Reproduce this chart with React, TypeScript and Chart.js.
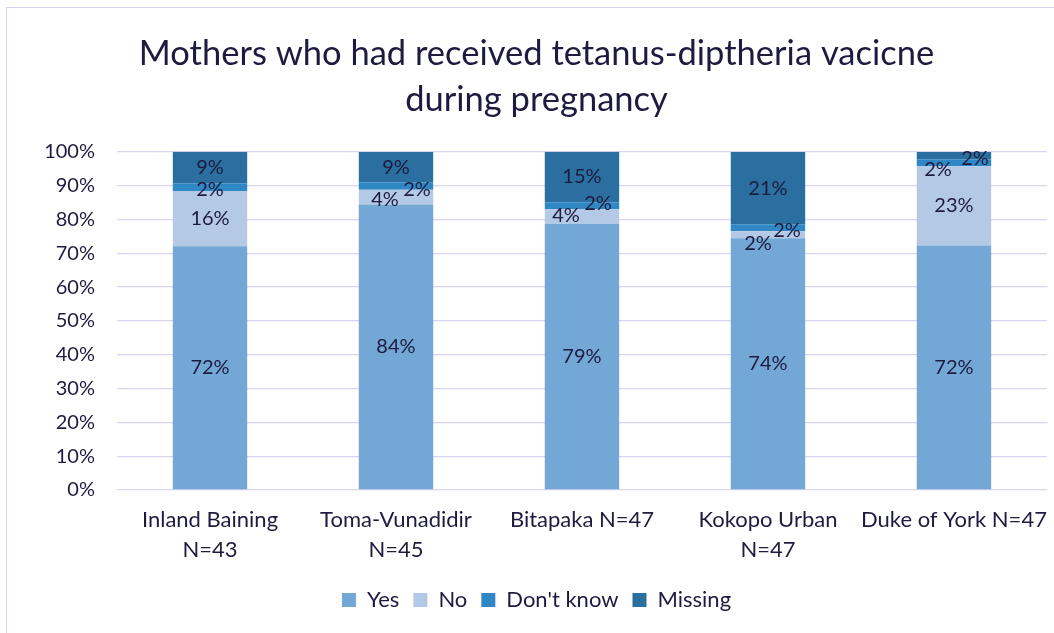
import React, { useEffect, useRef } from "react";
import { Chart, registerables } from "chart.js";

Chart.register(...registerables);

const titleLines = ["Mothers who had received tetanus-diptheria vacicne", "during pregnancy"];
const categories: (string | string[])[] = [
  ["Inland Baining", "N=43"],
  ["Toma-Vunadidir", "N=45"],
  "Bitapaka N=47",
  ["Kokopo Urban", "N=47"],
  "Duke of York N=47",
];
const seriesNames = ["Yes", "No", "Don't know", "Missing"];
const yesValues = [72.1, 84.4, 78.7, 74.4, 72.3];
const noValues = [16.3, 4.4, 4.3, 2.1, 23.4];
const dontKnowValues = [2.3, 2.2, 2.1, 2.1, 2.1];
const missingValues = [9.3, 8.9, 14.9, 21.3, 2.1];

const seriesColors = ["#72a7d6", "#b4c9e6", "#2f87c3", "#2a6f9f"];
const textColor = "#1d1b3f";
const gridColor = "#d9d4ef";
const FONT = "Lato";

// label nudges (dx, dy) per series / category, to mimic the reference's placement
const labelOffsets: number[][][] = [
  [[0, 0], [0, 0], [0, 0], [0, 0], [0, 0]],
  [[0, 0], [-11, 2], [-16, -1], [-10, 9], [0, 0]],
  [[0, 2], [21, 4], [16, -2], [19, 3], [-16, 7]],
  [[0, 0], [0, 0], [0, 0], [0, 0], [21, 3]],
];

const segLabels = {
  id: "segLabels",
  afterDatasetsDraw(chart: any) {
    const ctx = chart.ctx;
    ctx.save();
    ctx.font = `20px ${FONT}`;
    ctx.fillStyle = textColor;
    ctx.textAlign = "center";
    ctx.textBaseline = "middle";
    chart.data.datasets.forEach((ds: any, di: number) => {
      const meta = chart.getDatasetMeta(di);
      meta.data.forEach((bar: any, i: number) => {
        const v = ds.data[i];
        const p = bar.getProps(["x", "y", "base"], true);
        const off = labelOffsets[di][i];
        ctx.fillText(Math.round(v) + "%", p.x + off[0], (p.y + p.base) / 2 + off[1]);
      });
    });
    ctx.restore();
  },
};

export default function App() {
  const ref = useRef<HTMLCanvasElement>(null);
  useEffect(() => {
    if (!ref.current) return;
    const allValues = [yesValues, noValues, dontKnowValues, missingValues];
    const chart = new Chart(ref.current, {
      type: "bar",
      data: {
        labels: categories,
        datasets: seriesNames.map((name, i) => ({
          label: name,
          data: allValues[i],
          backgroundColor: seriesColors[i],
          borderWidth: 0,
          barPercentage: 0.4,
          categoryPercentage: 1.0,
        })),
      },
      options: {
        responsive: false,
        animation: false,
        devicePixelRatio: 1,
        layout: { padding: { left: 20, right: 1, top: 0, bottom: 12 } },
        plugins: {
          title: {
            display: true,
            text: titleLines,
            color: textColor,
            font: { family: FONT, size: 34.5, weight: "normal", lineHeight: 1.33 },
            padding: { top: 31, bottom: 29 },
          },
          legend: {
            position: "bottom",
            labels: {
              color: textColor,
              font: { family: FONT, size: 22 },
              boxWidth: 14,
              boxHeight: 14,
              padding: 14,
            },
          },
          tooltip: { enabled: false },
        },
        scales: {
          x: {
            stacked: true,
            grid: { display: false },
            border: { display: false },
            ticks: {
              color: textColor,
              font: { family: FONT, size: 22, lineHeight: 1.36 },
              padding: 7,
              maxRotation: 0,
              autoSkip: false,
            },
            afterFit(scale: any) {
              scale.height = 85;
            },
          },
          y: {
            stacked: true,
            min: 0,
            max: 100,
            grid: { color: gridColor, lineWidth: 1.3, drawTicks: false },
            border: { display: false },
            ticks: {
              stepSize: 10,
              color: textColor,
              font: { family: FONT, size: 20 },
              padding: 22,
              callback: (v: any) => v + "%",
            },
            afterFit(scale: any) {
              scale.width = 97;
            },
          },
        },
      },
      plugins: [segLabels],
    });
    return () => chart.destroy();
  }, []);

  return (
    <div style={{ position: "absolute", left: 0, top: 0, width: 1054, height: 633, overflow: "hidden", background: "#fff" }}>
      <div
        style={{
          position: "absolute",
          left: 6,
          top: 7,
          width: 1200,
          height: 800,
          border: "1px solid #d6d2ee",
        }}
      />
      <canvas ref={ref} width={1054} height={633} style={{ position: "absolute", left: 0, top: 0 }} />
    </div>
  );
}
